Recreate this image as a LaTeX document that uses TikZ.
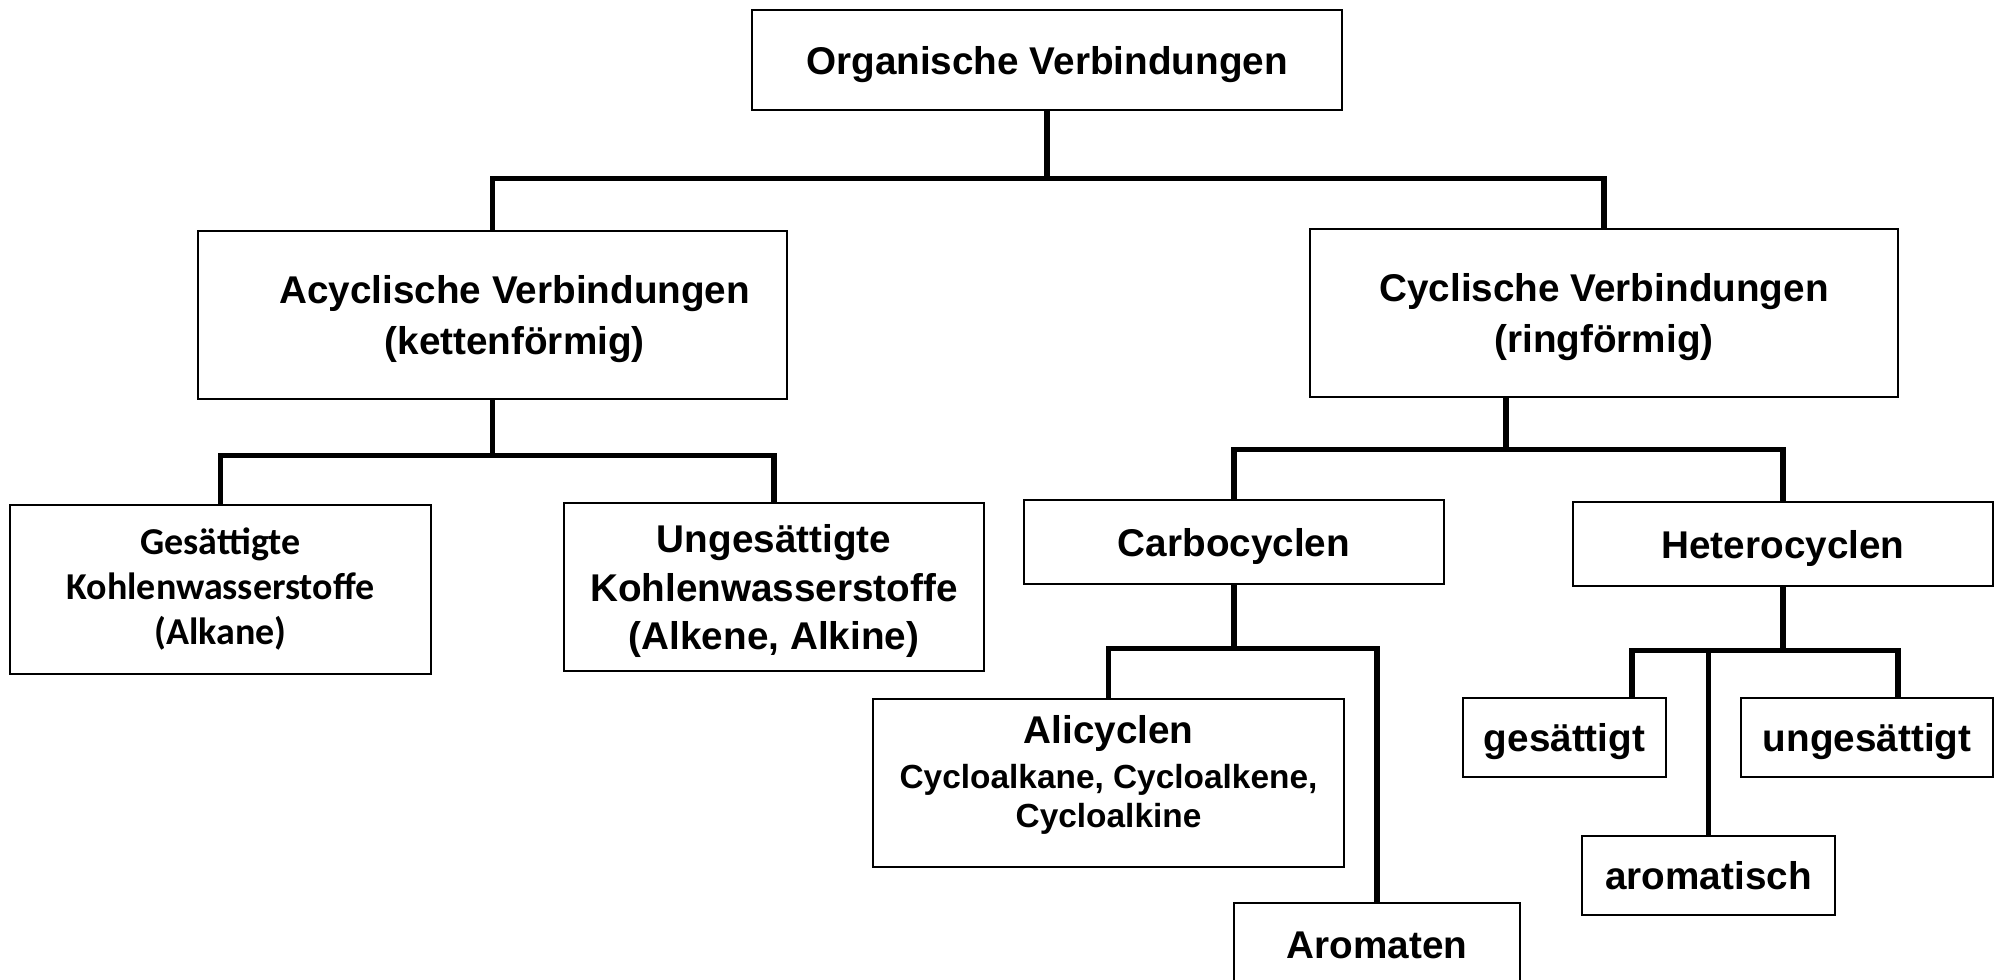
\documentclass[tikz,border=0pt]{standalone}
\usepackage{fontspec}
\setmainfont{Liberation Sans}
\newfontfamily\calibri{Carlito}

\begin{document}
\begin{tikzpicture}[
    x=0.01cm, y=-0.01cm,
    box/.style={rectangle, draw=black, line width=0.7pt, minimum width=4.2cm, minimum height=0.84cm, align=center, font=\fontsize{11}{14}\selectfont\bfseries, inner sep=2pt, text depth=0pt},
    wide/.style={box, minimum width=5.89cm, minimum height=1.68cm},
    small/.style={box, minimum height=0.79cm},
    boxtext/.style={align=center, inner sep=0pt, font=\fontsize{11}{14.5}\selectfont\bfseries},
    link/.style={line width=1.5pt, draw=black},
]
    \useasboundingbox (0,0) rectangle (1998,979);
    \clip (0,0) rectangle (1998,979);

    \node[box, minimum width=5.9cm, minimum height=1cm] (org) at (1047,60) {Organische Verbindungen};

    \node[wide, label={[boxtext, xshift=6.3pt, text depth=0pt]center:Acyclische Verbindungen\\(kettenförmig)}] (acyc) at (492.5,315) {};
    \node[wide, minimum width=5.88cm, font=\fontsize{11}{14.5}\selectfont\bfseries] (cyc) at (1604,313) {Cyclische Verbindungen\\(ringförmig)};

    \node[box, minimum width=4.21cm, minimum height=1.69cm, text depth=, font=\calibri\fontsize{10.8}{12.8}\selectfont\bfseries] (gesKW) at (220.5,589.5) {Gesättigte\\Kohlenwasserstoffe\\(Alkane)};
    \node[box, minimum height=1.68cm, font=\fontsize{11}{13.8}\selectfont\bfseries] (ungKW) at (774,587) {Ungesättigte\\Kohlenwasserstoffe\\(Alkene, Alkine)};

    \node[box] (carbo) at (1234,542) {Carbocyclen};
    \node[box] (hetero) at (1783,544) {Heterocyclen};

    \node[box, minimum width=4.71cm, minimum height=1.68cm, label={[boxtext, yshift=2.3pt, font=\fontsize{11}{12.8}\selectfont\bfseries]center:Alicyclen\\{\fontsize{9.5}{11}\selectfont Cycloalkane, Cycloalkene,}\\[-1.7pt]{\fontsize{9.5}{11}\selectfont Cycloalkine}}] (alic) at (1108.5,783) {};
    \node[box, minimum width=2.86cm] (arom) at (1377,945) {Aromaten};

    \node[small, minimum width=2.03cm] (ges) at (1564.5,737.5) {gesättigt};
    \node[small, minimum width=2.52cm] (unges) at (1867,737.5) {ungesättigt};
    \node[small, minimum width=2.53cm] (aromat) at (1708.5,875.5) {aromatisch};

    \coordinate (cycfoot) at ([xshift=-0.98cm]cyc.south);
    \coordinate (gestop) at ([xshift=0.675cm]ges.north);
    \coordinate (ungestop) at ([xshift=0.31cm]unges.north);

    \draw[link] (org.south) -- ++(0,67) -| (acyc.north);
    \draw[link] (org.south) -- ++(0,67) -| (cyc.north);

    \draw[link] (acyc.south) -- ++(0,55) -| (gesKW.north);
    \draw[link] (acyc.south) -- ++(0,55) -| (ungKW.north);

    \draw[link] (cycfoot) -- ++(0,51) -| (carbo.north);
    \draw[link] (cycfoot) -- ++(0,51) -| (hetero.north);

    \draw[link] (carbo.south) -- ++(0,63) -| (alic.north);
    \draw[link] (carbo.south) -- ++(0,63) -| (arom.north);

    \draw[link] (hetero.south) -- ++(0,63) -| (gestop);
    \draw[link] (hetero.south) -- ++(0,63) -| (aromat.north);
    \draw[link] (hetero.south) -- ++(0,63) -| (ungestop);

\end{tikzpicture}
\end{document}
